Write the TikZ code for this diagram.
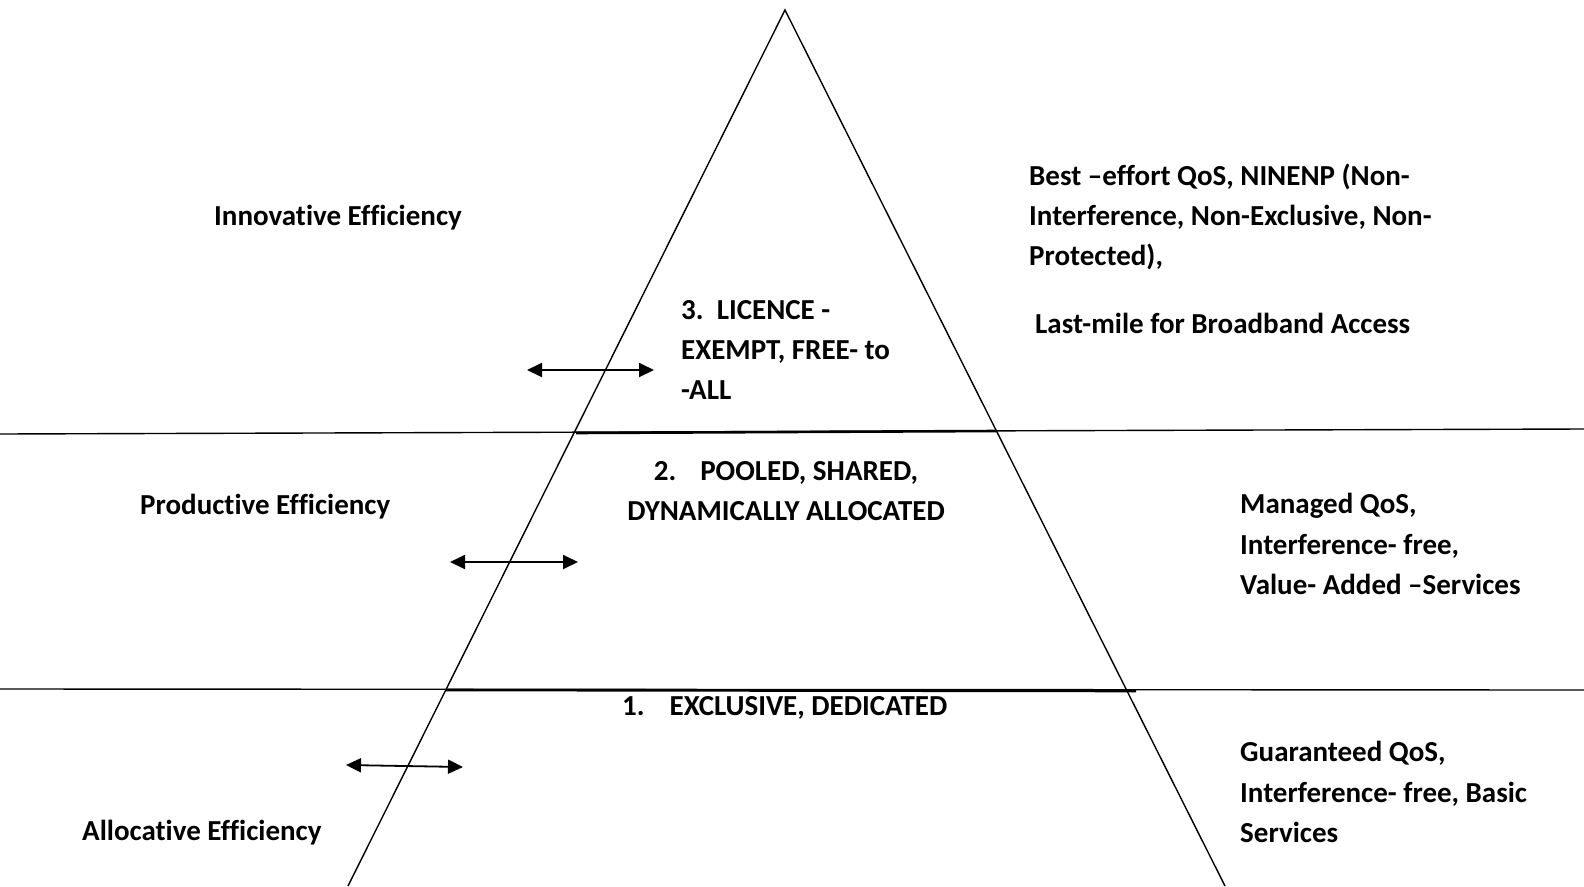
\documentclass[tikz,border=0pt]{standalone}
\usepackage{fontspec}
\setmainfont{Carlito}[Ligatures=NoCommon]
\usetikzlibrary{arrows.meta}
\begin{document}
\begin{tikzpicture}[x=1pt,y=-1pt,
  txt/.style={inner sep=0pt, font=\bfseries\fontsize{29}{40.4}\selectfont},
  edge/.style={line width=1.4pt, black},
  bar/.style={line width=2.6pt, black},
  dbl/.style={line width=1.8pt, {Triangle[length=15pt,width=14pt]}-{Triangle[length=15pt,width=14pt]}}]
\useasboundingbox (0,0) rectangle (1584,886);
% pyramid
\coordinate (apex) at (785,10);
\coordinate (bl) at (348,886);
\coordinate (br) at (1225,886);
\draw[edge] (bl) -- (apex) -- (br);
% horizontal lines
\coordinate (h1l) at (0,434);
\coordinate (h1r) at (1584,429);
\coordinate (h2l) at (0,689);
\coordinate (h2r) at (1584,690);
\draw[edge] (h1l) -- (h1r);
\draw[edge] (h2l) -- (h2r);
\coordinate (t1l) at (576,433);
\coordinate (t1r) at (996,431);
\coordinate (t2l) at (446,690);
\coordinate (t2r) at (1136,691);
\draw[bar] (t1l) -- (t1r);
\draw[bar] (t2l) -- (t2r);
% arrows
\coordinate (a3l) at (527,370);
\coordinate (a3r) at (654,370);
\coordinate (a2l) at (450,562);
\coordinate (a2r) at (578,562);
\coordinate (a1l) at (346,765);
\coordinate (a1r) at (463,767);
\draw[dbl] (a3l) -- (a3r);
\draw[dbl] (a2l) -- (a2r);
\draw[dbl] (a1l) -- (a1r);
% left labels
\node[txt, anchor=west] (inn) at (214,218) {Innovative Efficiency};
\node[txt, anchor=west] (prod) at (140,507) {Productive Efficiency};
\node[txt, anchor=west] (alloc) at (82,833) {Allocative Efficiency};
% center labels
\node[txt, anchor=west, align=left] (lic) at (681,350) {3.\ \ LICENCE -\\EXEMPT, FREE- to\\-ALL};
\node[txt, align=center] (pool) at (786,491) {2.\hspace{24pt}POOLED, SHARED,\\DYNAMICALLY ALLOCATED};
\node[txt, anchor=west] (excl) at (622,708) {1.\hspace{25pt}EXCLUSIVE, DEDICATED};
% right labels
\node[txt, anchor=west, align=left] (best) at (1029,217) {Best –effort QoS, NINENP (Non-\\Interference, Non-Exclusive, Non-\\Protected),};
\node[txt, anchor=west] (last) at (1035,323) {Last-mile for Broadband Access};
\node[txt, anchor=west, align=left] (man) at (1240,544) {Managed QoS,\\Interference- free,\\Value- Added –Services};
\node[txt, anchor=west, align=left] (guar) at (1240,792) {Guaranteed QoS,\\Interference- free, Basic\\Services};
\end{tikzpicture}
\end{document}
